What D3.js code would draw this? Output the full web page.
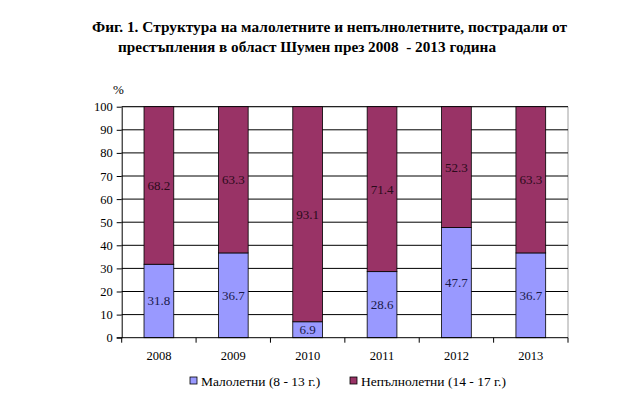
<!DOCTYPE html>
<html><head><meta charset="utf-8">
<script src="https://cdn.jsdelivr.net/npm/d3@7/dist/d3.min.js"></script>
<style>body{margin:0;background:#fff}svg{display:block}svg text{font-family:"Liberation Serif","Times New Roman",serif}</style>
</head><body>
<script>
const years = ["2008","2009","2010","2011","2012","2013"];
const minors = [31.8, 36.7, 6.9, 28.6, 47.7, 36.7];
const juveniles = [68.2, 63.3, 93.1, 71.4, 52.3, 63.3];
const yTicks = [0,10,20,30,40,50,60,70,80,90,100];
const seriesNames = ["Малолетни (8 - 13 г.)", "Непълнолетни (14 - 17 г.)"];
const titleLines = ["Фиг. 1. Структура на малолетните и непълнолетните, пострадали от", "престъпления в област Шумен през 2008  - 2013 година"];

const W = 640, H = 404;
const svg = d3.select("body").append("svg").attr("width", W).attr("height", H);
const m = {left: 121.7, right: 568, top: 106.7, bottom: 337.7};

const x = d3.scaleBand().domain(years).range([m.left, m.right]).paddingInner(0.6).paddingOuter(0.3);
const xb = d3.scaleBand().domain(years).range([m.left, m.right]);
const y = d3.scaleLinear().domain([0,100]).range([m.bottom, m.top]);

// title
svg.append("text").attr("x", 92).attr("y", 32).style("font-weight", "bold")
  .style("font-size", "14px").attr("textLength", 475).attr("lengthAdjust", "spacingAndGlyphs").text(titleLines[0]);
svg.append("text").attr("x", 118).attr("y", 52).style("font-weight", "bold").attr("xml:space","preserve")
  .style("white-space","pre")
  .style("font-size", "14px").attr("textLength", 378).attr("lengthAdjust", "spacingAndGlyphs").text(titleLines[1]);

// plot area border (top, right)
svg.append("path").attr("d", `M${m.left},${m.top}H${m.right}V${m.bottom}`).attr("fill","none").attr("stroke","#a0a0a0").attr("stroke-width",1);

// gridlines
svg.append("g").selectAll("line").data(yTicks.filter(t => t > 0)).join("line")
  .attr("x1", m.left).attr("x2", m.right).attr("y1", d => y(d)).attr("y2", d => y(d))
  .attr("stroke", "#000").attr("stroke-width", 1);

// stacked bars
const data = years.map((yr,i) => ({yr, a: minors[i], b: juveniles[i]}));
const g = svg.append("g");
g.selectAll("rect.a").data(data).join("rect").attr("class","a")
  .attr("x", d => x(d.yr)).attr("width", x.bandwidth())
  .attr("y", d => y(d.a)).attr("height", d => y(0) - y(d.a))
  .attr("fill", "#9999ff").attr("stroke", "#000").attr("stroke-width", 0.8);
g.selectAll("rect.b").data(data).join("rect").attr("class","b")
  .attr("x", d => x(d.yr)).attr("width", x.bandwidth())
  .attr("y", d => y(d.a + d.b)).attr("height", d => y(d.a) - y(d.a + d.b))
  .attr("fill", "#993366").attr("stroke", "#000").attr("stroke-width", 0.8);

// data labels
g.selectAll("text.la").data(data).join("text").attr("class","la")
  .attr("x", d => x(d.yr) + x.bandwidth()/2).attr("y", d => y(d.a/2) + 4.5)
  .attr("text-anchor","middle").style("font-size", "13px").attr("fill", "#1a1a4a")
  .text(d => d.a.toFixed(1));
g.selectAll("text.lb").data(data).join("text").attr("class","lb")
  .attr("x", d => x(d.yr) + x.bandwidth()/2).attr("y", d => y(d.a + d.b/2) + 4.5)
  .attr("text-anchor","middle").style("font-size", "13px").attr("fill", "#2a0a1a")
  .text(d => d.b.toFixed(1));

// y axis
const ya = svg.append("g").attr("transform", `translate(${m.left},0)`)
  .call(d3.axisLeft(y).tickValues(yTicks).tickSize(5).tickSizeOuter(0));
ya.attr("font-family", null).attr("font-size", null);
ya.select(".domain").attr("stroke","#000");
ya.selectAll("text").style("font-size", "12.5px").attr("fill","#000").attr("dx", -1);

// x axis with ticks at category boundaries
svg.append("line").attr("x1", m.left - 5).attr("x2", m.right).attr("y1", m.bottom).attr("y2", m.bottom).attr("stroke","#000");
svg.append("g").selectAll("line").data(years.concat(["end"])).join("line")
  .attr("x1", (d,i) => i < years.length ? xb(d) : m.right).attr("x2", (d,i) => i < years.length ? xb(d) : m.right)
  .attr("y1", m.bottom).attr("y2", m.bottom + 5).attr("stroke","#000");
svg.append("g").selectAll("text").data(years).join("text")
  .attr("x", d => xb(d) + xb.bandwidth()/2).attr("y", 360)
  .attr("text-anchor","middle").style("font-size", "12.5px").text(d => d);

// % label
svg.append("text").attr("x", 113).attr("y", 94).style("font-size", "13px").text("%");

// legend
const leg = [{x:190, name: seriesNames[0], c:"#9999ff"}, {x:350, name: seriesNames[1], c:"#993366"}];
const lg = svg.append("g");
lg.selectAll("rect").data(leg).join("rect").attr("x", d => d.x).attr("y", 377).attr("width", 7).attr("height", 7)
  .attr("fill", d => d.c).attr("stroke","#000").attr("stroke-width", 0.8);
lg.selectAll("text").data(leg).join("text").attr("x", d => d.x + 11).attr("y", 385.5)
  .style("font-size", "13.5px").text(d => d.name);
</script>
</body></html>
